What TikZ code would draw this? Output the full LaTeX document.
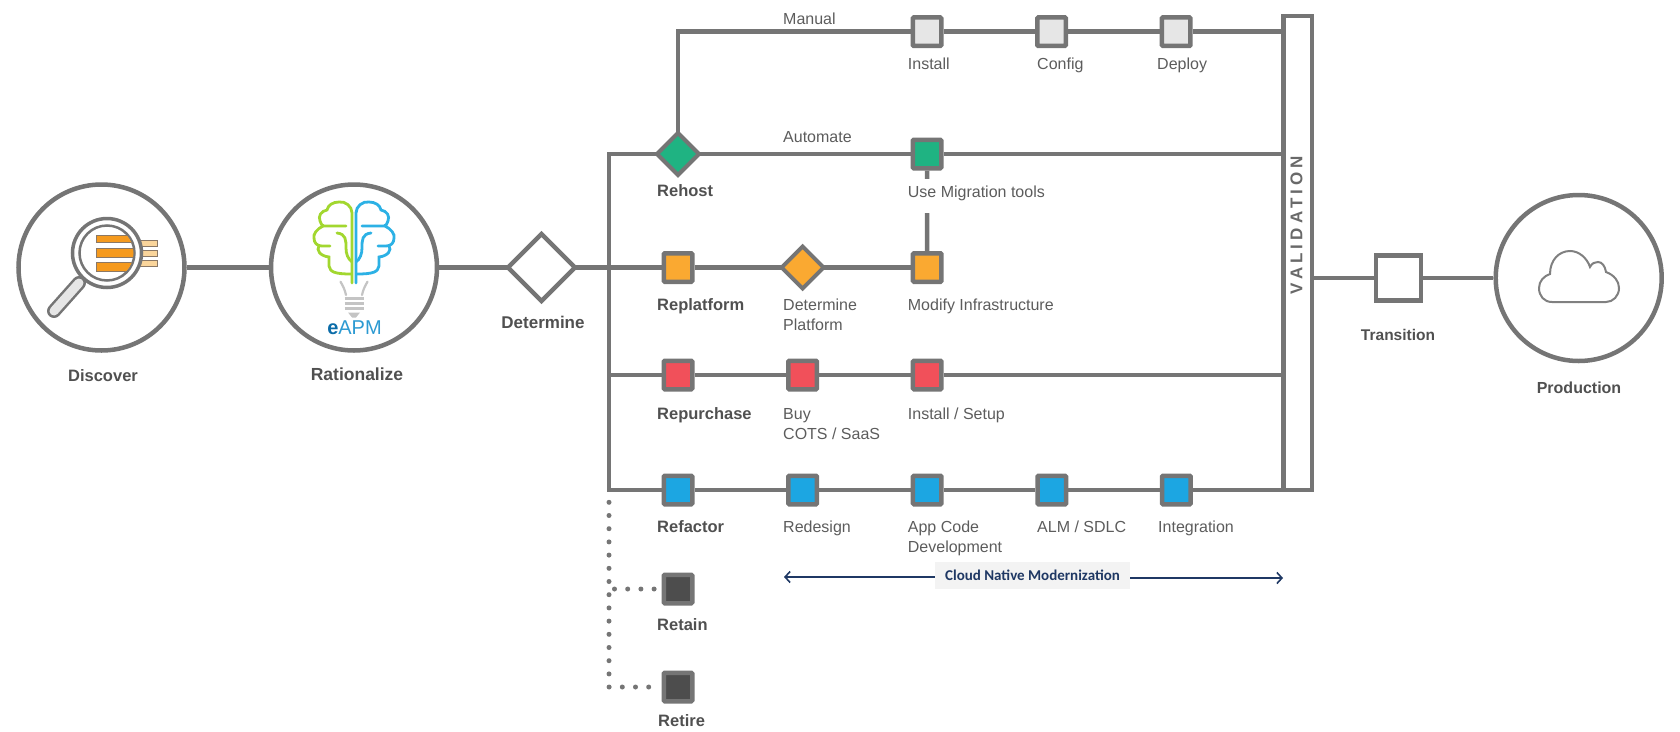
\documentclass[tikz,border=0pt]{standalone}
\usepackage{fontspec}
\setmainfont{Liberation Sans}
\newfontfamily\carlitofont{Carlito}
\usetikzlibrary{positioning, shapes.geometric, arrows.meta}
\definecolor{wiregray}{HTML}{757575}
\definecolor{txtgray}{HTML}{5C5C5C}
\definecolor{boldgray}{HTML}{505050}
\definecolor{installgray}{HTML}{E6E6E6}
\definecolor{rehostgreen}{HTML}{1FB382}
\definecolor{platorange}{HTML}{FAA931}
\definecolor{buyred}{HTML}{F1505A}
\definecolor{refblue}{HTML}{1CA6E2}
\definecolor{retaingray}{HTML}{4D4D4D}
\definecolor{bandnavy}{HTML}{1F3864}
\definecolor{bandfill}{HTML}{F3F3F3}
\definecolor{brainpaleorange}{HTML}{FAD59B}
\definecolor{barorange}{HTML}{F59A1E}
\definecolor{brainlime}{HTML}{A2D72F}
\definecolor{brainsky}{HTML}{2CB1E5}
\definecolor{bulbgray}{HTML}{C4C4C4}
\definecolor{eapmdark}{HTML}{0B6CA8}
\definecolor{eapmsky}{HTML}{2C9AD2}
\begin{document}
\begin{tikzpicture}[x=1pt, y=-1pt,
     node distance = 124.6pt, on grid,
        box/.style = {rectangle, draw=wiregray, line width=4.5pt, fill=#1,
                     minimum size=28.5pt, rounded corners=1pt, inner sep=0pt},
       dmnd/.style = {diamond, draw=wiregray, line width=4pt, fill=#1, outer sep=0pt,
                     minimum size=42pt, aspect=1, inner sep=0pt},
       disc/.style = {circle, draw=wiregray, line width=4.5pt, fill=white,
                     minimum size=166pt, inner sep=0pt},
        lbl/.style = {anchor=base west, inner sep=0pt, text=txtgray, align=left,
                     font=\fontsize{16}{20}\selectfont},
       blbl/.style = {anchor=base west, inner sep=0pt, text=boldgray,
                     font=\fontsize{16.5}{20}\selectfont\bfseries},
       wire/.style = {draw=wiregray, line width=4.5pt},
      dotty/.style = {draw=wiregray, line width=5pt, line cap=round,
                     dash pattern=on 0pt off 13.2pt},
       band/.style = {draw=bandnavy, line width=1.6pt,
                     -{Straight Barb[length=5pt,width=11pt]}}
                        ]
\useasboundingbox (0,0) rectangle (1680,731);
% stages
\node (discover) [disc] at (101.5,267.5) {};
\node (rationalize) [disc] at (354,267.5) {};
\node (determine) [dmnd=white, minimum size=67pt, line width=4.5pt] at (541.5,267.5) {};
\node (production) [disc] at (1578.7,278) {};
\node (transition) [box=white, minimum size=45pt, rounded corners=0pt] at (1398.5,278) {};
\node (valbar) [rectangle, draw=wiregray, line width=4.5pt, outer sep=0pt,
                minimum width=28.5pt, minimum height=474pt] at (1297.5,253) {};
\coordinate (spinetop) at (609,154);
\coordinate (spinebot) at (609,490);
\coordinate (manualbend) at (678,31.7);
\coordinate (dotstart) at (609,502.3);
\coordinate (dotend) at (609,687);
\coordinate (dotretain) at (614.5,589);
% manual row
\node (install) [box=installgray] at (927,31.7) {};
\node (config) [box=installgray, right=of install] {};
\node (deploy) [box=installgray, right=of config] {};
% automate row
\node (rehost) [dmnd=rehostgreen] at (678,154) {};
\node (migrate) [box=rehostgreen] at (927,154) {};
% replatform row
\node (replatform) [box=platorange] at (678,267.5) {};
\node (platform) [dmnd=platorange, right=of replatform] {};
\node (modify) [box=platorange, right=of platform] {};
% repurchase row
\node (repurchase) [box=buyred] at (678,375) {};
\node (buy) [box=buyred, right=of repurchase] {};
\node (setup) [box=buyred, right=of buy] {};
% refactor row
\node (refactor) [box=refblue] at (678,490) {};
\node (redesign) [box=refblue, right=of refactor] {};
\node (appcode) [box=refblue, right=of redesign] {};
\node (alm) [box=refblue, right=of appcode] {};
\node (integration) [box=refblue, right=of alm] {};
% retain, retire
\node (retain) [box=retaingray] at (678,589) {};
\node (retire) [box=retaingray] at (678,687) {};
% connectors
\draw[wire] (discover) to (rationalize);
\draw[wire] (rationalize) to (determine);
\draw[wire] (determine) to (replatform);
\draw[wire] (replatform) to (platform);
\draw[wire] (platform) to (modify);
\draw[wire] (rehost) -- (spinetop) -- (spinebot) -- (refactor);
\draw[wire] (rehost) -- (manualbend) -- (install);
\draw[wire] (install) to (config);
\draw[wire] (config) to (deploy);
\draw[wire] (deploy) -- (deploy -| valbar.west);
\draw[wire] (rehost) to (migrate);
\draw[wire] (migrate) -- (migrate -| valbar.west);
\draw[wire] (migrate) to (modify);
\draw[wire] (spinetop |- repurchase) -- (repurchase);
\draw[wire] (repurchase) to (buy);
\draw[wire] (buy) to (setup);
\draw[wire] (setup) -- (setup -| valbar.west);
\draw[wire] (refactor) to (redesign);
\draw[wire] (redesign) to (appcode);
\draw[wire] (appcode) to (alm);
\draw[wire] (alm) to (integration);
\draw[wire] (integration) -- (integration -| valbar.west);
\draw[wire] (valbar.east |- transition) -- (transition);
\draw[wire] (transition) to (production);
\draw[dotty] (dotstart) -- (dotend) -- (retire);
\draw[dotty] (dotretain) -- (retain);
% labels
\node (discoverlbl) [blbl, anchor=base] at (103,381.7) {Discover};
\node (rationalizelbl) [blbl, anchor=base, font=\fontsize{17.5}{20}\selectfont\bfseries] at (357,380) {Rationalize};
\node (determinelbl) [blbl, anchor=base, font=\fontsize{17}{20}\selectfont\bfseries] at (543,328) {Determine};
\node (transitionlbl) [blbl, anchor=base, font=\fontsize{15.5}{20}\selectfont\bfseries] at (1398,340) {Transition};
\node (productionlbl) [blbl, anchor=base, font=\fontsize{16}{20}\selectfont\bfseries] at (1579,393) {Production};
\node (manuallbl) [lbl] at (783,24.3) {Manual};
\node (installlbl) [lbl] at (907.7,69) {Install};
\node (configlbl) [lbl] at (1037,69) {Config};
\node (deploylbl) [lbl] at (1157,69) {Deploy};
\node (automatelbl) [lbl] at (783,142) {Automate};
\node (rehostlbl) [blbl] at (657,196.7) {Rehost};
\node (migratelbl) [lbl, fill=white, text height=12pt, text depth=10pt, inner ysep=6pt] at (907.7,197) {Use Migration tools};
\node (replatformlbl) [blbl] at (657,310.7) {Replatform};
\node (platformlbl) [lbl] at (783,330.7) {Determine\\Platform};
\node (modifylbl) [lbl] at (907.7,310.7) {Modify Infrastructure};
\node (repurchaselbl) [blbl] at (657,419) {Repurchase};
\node (buylbl) [lbl] at (783,439) {Buy\\COTS / SaaS};
\node (setuplbl) [lbl] at (907.7,419) {Install / Setup};
\node (refactorlbl) [blbl] at (657,532.7) {Refactor};
\node (redesignlbl) [lbl] at (783,532.7) {Redesign};
\node (appcodelbl) [lbl] at (907.7,552.7) {App Code\\Development};
\node (almlbl) [lbl] at (1037,532.7) {ALM / SDLC};
\node (integrationlbl) [lbl] at (1158,532.7) {Integration};
\node (retainlbl) [blbl] at (657,630.7) {Retain};
\node (retirelbl) [blbl] at (658,726.7) {Retire};
\node (validationlbl) [inner sep=0pt, rotate=90, text=wiregray!90!black] at (1296.5,225)
    {\fontsize{17}{20}\selectfont\bfseries\addfontfeature{LetterSpace=24}VALIDATION};
% cloud native band
\node (bandlbl) [rectangle, fill=bandfill, text=bandnavy, minimum width=195pt, minimum height=27pt,
                 inner sep=0pt, font=\carlitofont\fontsize{15}{18}\selectfont\bfseries] at (1032.5,575.5) {Cloud Native Modernization};
\coordinate (bandleft) at (784,577);
\coordinate (bandright) at (1283,578);
\draw[band] (bandlbl.west |- bandleft) -- (bandleft);
\draw[band] (bandlbl.east |- bandright) -- (bandright);
% magnifier
\foreach \y in {240.7,250.7,260.7}
  \draw[draw=wiregray!70!brown, line width=.8pt, fill=brainpaleorange] (130,\y) rectangle (157,\y+5.6);
\draw[draw=wiregray, line width=14pt, line cap=round] (79,283) -- (54,311);
\draw[draw=installgray, line width=9pt, line cap=round] (79,283) -- (54,311);
\draw[draw=wiregray, line width=3.5pt, fill=white] (107,253) circle (34.5pt);
\draw[draw=wiregray, line width=2.5pt] (107,253) circle (27.5pt);
\begin{scope}
\clip (107,253) circle (26.5pt);
\foreach \y/\h in {235/7.7,248.3/9,262.7/8.3}
  \draw[draw=wiregray!70!brown, line width=1pt, fill=barorange] (96.4,\y) rectangle (140,\y+\h);
\end{scope}
% brain and bulb
\foreach \col/\s in {brainlime/1, brainsky/-1} {
\begin{scope}[shift={(354,0)}, xscale=\s, line width=2.8pt, line cap=round]
\draw[draw=\col] (-2,283) -- (-2,213) .. controls (-2,206) and (-9,201) .. (-15,202) .. controls (-21,202) and (-26,205) .. (-27,210)
   .. controls (-33,211) and (-36,216) .. (-34,221) .. controls (-33,224) and (-32,226) .. (-30,226) -- (-8,226);
\draw[draw=\col] (-31,226) .. controls (-37,229) and (-41,234) .. (-40,238) .. controls (-40,243) and (-37,246) .. (-32,246) -- (-24,246);
\draw[draw=\col] (-35,246) .. controls (-38,250) and (-34,256) .. (-25,257) .. controls (-25,264) .. (-25,266)
   .. controls (-24,272) and (-19,274) .. (-3,274);
\draw[draw=\col] (-17,233) .. controls (-8,234) and (-8,240) .. (-8,248) .. controls (-8,254) and (-6,259) .. (-2,262);
\end{scope}
}
\foreach \s in {1,-1}
  \draw[draw=bulbgray, line width=2.2pt, line cap=round] ({354-\s*13.5},281.7) .. controls ({354-\s*11},286) and ({354-\s*9},290) .. ({354-\s*8},295);
\foreach \y in {298.3,303.3,308.3}
  \draw[draw=bulbgray, line width=2.6pt] (344.5,\y) -- (363.5,\y);
\fill[bulbgray] (348,312.5) -- (360,312.5) -- (356,317.5) -- (352,317.5) -- cycle;
\node (eapmlbl) [anchor=base, inner sep=0pt, font=\fontsize{20}{22}\selectfont] at (354.5,334.3)
    {\textcolor{eapmdark}{\bfseries e}\textcolor{eapmsky}{APM}};
% cloud
\draw[draw=gray, line width=2pt] (1552,302) .. controls (1544,302) and (1539,296) .. (1539,288)
   .. controls (1539,281) and (1544,276) .. (1550,274) .. controls (1550,260) and (1559,251) .. (1570,251)
   .. controls (1579,251) and (1587,258) .. (1590,267) .. controls (1592,263) and (1595,262) .. (1598,262)
   .. controls (1602,262) and (1605,266) .. (1606,272) .. controls (1614,275) and (1619,281) .. (1619,288)
   .. controls (1619,296) and (1613,302) .. (1606,302) -- cycle;
\end{tikzpicture}
\end{document}
